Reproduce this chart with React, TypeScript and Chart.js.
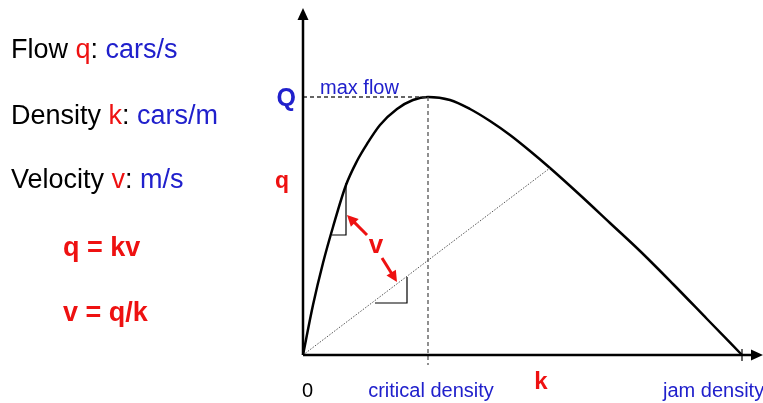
import React, { useEffect, useRef } from "react";
import { Chart, registerables } from "chart.js";

Chart.register(...registerables);

// Flow-density curve (density k, flow q)
const densityK = [0, 10, 20, 30, 43, 54, 64, 77, 94, 110, 125, 147, 167, 187, 207, 227, 247, 277, 307, 337, 370, 404, 439];
const flowQ = [0, 50, 92, 128, 170, 194, 211, 230, 246, 255, 258, 255, 246, 234, 220, 204, 187, 160, 132, 104, 71, 36, 0];

const criticalDensity = 125;
const maxFlow = 258;
const jamDensity = 439;

// chord from origin to the curve (speed v)
const chordK = [0, 247];
const chordQ = [0, 187];

// slope triangles
const upperTriK = [29, 43, 43];
const upperTriQ = [120, 120, 172];
const lowerTriK = [72, 104, 104];
const lowerTriQ = [52, 52, 78];

// red double arrow (inner point -> tip)
const arrowUpK = [64, 44];
const arrowUpQ = [120, 140];
const arrowDownK = [79, 94];
const arrowDownQ = [97, 73];

// axis extents
const kAxisMin = -303;
const kAxisMax = 460;
const qAxisMin = -48;
const qAxisMax = 355;
const kArrowTip = 460;
const qArrowTip = 347;

const BLUE = "#2020cc";
const RED = "#ee1111";
const FONT = '"Liberation Sans", Arial, Helvetica, sans-serif';

const pts = (ks: number[], qs: number[]) => ks.map((k, i) => ({ x: k, y: qs[i] }));

const overlay = {
  id: "overlay",
  afterDatasetsDraw(chart: any) {
    const { ctx, scales } = chart;
    const xs = scales.x;
    const ys = scales.y;
    const px = (k: number) => xs.getPixelForValue(k);
    const py = (q: number) => ys.getPixelForValue(q);

    const head = (fx: number, fy: number, tx: number, ty: number, len: number, half: number, color: string) => {
      const a = Math.atan2(ty - fy, tx - fx);
      const c = Math.cos(a);
      const s = Math.sin(a);
      ctx.beginPath();
      ctx.moveTo(tx, ty);
      ctx.lineTo(tx - len * c + half * s, ty - len * s - half * c);
      ctx.lineTo(tx - len * c - half * s, ty - len * s + half * c);
      ctx.closePath();
      ctx.fillStyle = color;
      ctx.fill();
    };

    ctx.save();
    // axis arrowheads
    head(px(0), py(0), px(0), py(qArrowTip), 12, 5.5, "#000");
    head(px(0), py(0), px(kArrowTip), py(0), 12, 5.5, "#000");

    // red double arrow
    const drawArrow = (ks: number[], qs: number[]) => {
      const x0 = px(ks[0]);
      const y0 = py(qs[0]);
      const x1 = px(ks[1]);
      const y1 = py(qs[1]);
      const a = Math.atan2(y1 - y0, x1 - x0);
      ctx.beginPath();
      ctx.moveTo(x0, y0);
      ctx.lineTo(x1 - 8 * Math.cos(a), y1 - 8 * Math.sin(a));
      ctx.strokeStyle = RED;
      ctx.lineWidth = 3;
      ctx.stroke();
      head(x0, y0, x1, y1, 11, 5.5, RED);
    };
    drawArrow(arrowUpK, arrowUpQ);
    drawArrow(arrowDownK, arrowDownQ);

    const text = (t: string, x: number, y: number, font: string, color: string, align: CanvasTextAlign = "left") => {
      ctx.font = font;
      ctx.fillStyle = color;
      ctx.textAlign = align;
      ctx.textBaseline = "alphabetic";
      ctx.fillText(t, x, y);
    };

    text("Q", px(0) - 7, py(maxFlow) + 9, `bold 25px ${FONT}`, BLUE, "right");
    text("max flow", px(0) + 17, py(maxFlow) - 3, `20px ${FONT}`, BLUE);
    text("q", px(0) - 14, 188, `bold 23px ${FONT}`, RED, "right");
    text("v", 376, 253, `bold 26px ${FONT}`, RED, "center");
    text("0", px(0) - 1, 397, `20px ${FONT}`, "#000");
    text("critical density", px(criticalDensity) + 3, 397, `20px ${FONT}`, BLUE, "center");
    text("k", 541, 389, `bold 24px ${FONT}`, RED, "center");
    text("jam density", px(jamDensity) - 79, 397, `20px ${FONT}`, BLUE);
    ctx.restore();
  },
};

export default function App() {
  const ref = useRef<HTMLCanvasElement>(null);

  useEffect(() => {
    document.body.style.margin = "0";
    const canvas = ref.current!;
    const line = (data: any[], color: string, width: number, dash: number[] = [], extra: any = {}) => ({
      data,
      showLine: true,
      borderColor: color,
      backgroundColor: color,
      borderWidth: width,
      borderDash: dash,
      pointRadius: 0,
      tension: 0,
      fill: false,
      ...extra,
    });
    const chart = new Chart(canvas, {
      type: "scatter",
      data: {
        datasets: [
          line(pts([0, 0], [0, qArrowTip - 6]), "#000", 2.5),
          line(pts([0, kArrowTip - 6], [0, 0]), "#000", 2.5),
          line(pts([jamDensity, jamDensity], [-6, 6]), "#000", 1.2),
          line(pts([0, criticalDensity], [maxFlow, maxFlow]), "#333", 1.3, [4, 3]),
          line(pts([criticalDensity, criticalDensity], [maxFlow, -10]), "#555", 1.3, [4, 3]),
          line(pts(chordK, chordQ), "#555", 1, [1.5, 1.5]),
          line(pts(upperTriK, upperTriQ), "#000", 1.2),
          line(pts(lowerTriK, lowerTriQ), "#000", 1.2),
          line(pts(densityK, flowQ), "#000", 2.5, [], { cubicInterpolationMode: "monotone" }),
        ],
      },
      options: {
        animation: false,
        responsive: false,
        devicePixelRatio: 1,
        layout: { padding: 0 },
        events: [],
        plugins: { legend: { display: false }, tooltip: { enabled: false } },
        scales: {
          x: { type: "linear", min: kAxisMin, max: kAxisMax, display: false },
          y: { type: "linear", min: qAxisMin, max: qAxisMax, display: false },
        },
      },
      plugins: [overlay],
    });
    return () => chart.destroy();
  }, []);

  const base: React.CSSProperties = {
    position: "absolute",
    fontFamily: FONT,
    fontSize: 27,
    lineHeight: "27px",
    whiteSpace: "nowrap",
    color: "#000",
  };

  return (
    <div style={{ position: "fixed", left: 0, top: 0, width: 763, height: 403, background: "#fff", overflow: "hidden" }}>
      <canvas ref={ref} width={763} height={403} style={{ position: "absolute", left: 0, top: 0, width: 763, height: 403 }} />
      <div style={{ ...base, left: 11, top: 36 }}>
        Flow <span style={{ color: RED }}>q</span>: <span style={{ color: BLUE }}>cars/s</span>
      </div>
      <div style={{ ...base, left: 11, top: 102 }}>
        Density <span style={{ color: RED }}>k</span>: <span style={{ color: BLUE }}>cars/m</span>
      </div>
      <div style={{ ...base, left: 11, top: 166 }}>
        Velocity <span style={{ color: RED }}>v</span>: <span style={{ color: BLUE }}>m/s</span>
      </div>
      <div style={{ ...base, left: 63, top: 234, fontWeight: "bold", color: RED }}>q = kv</div>
      <div style={{ ...base, left: 63, top: 299, fontWeight: "bold", color: RED }}>v = q/k</div>
    </div>
  );
}
